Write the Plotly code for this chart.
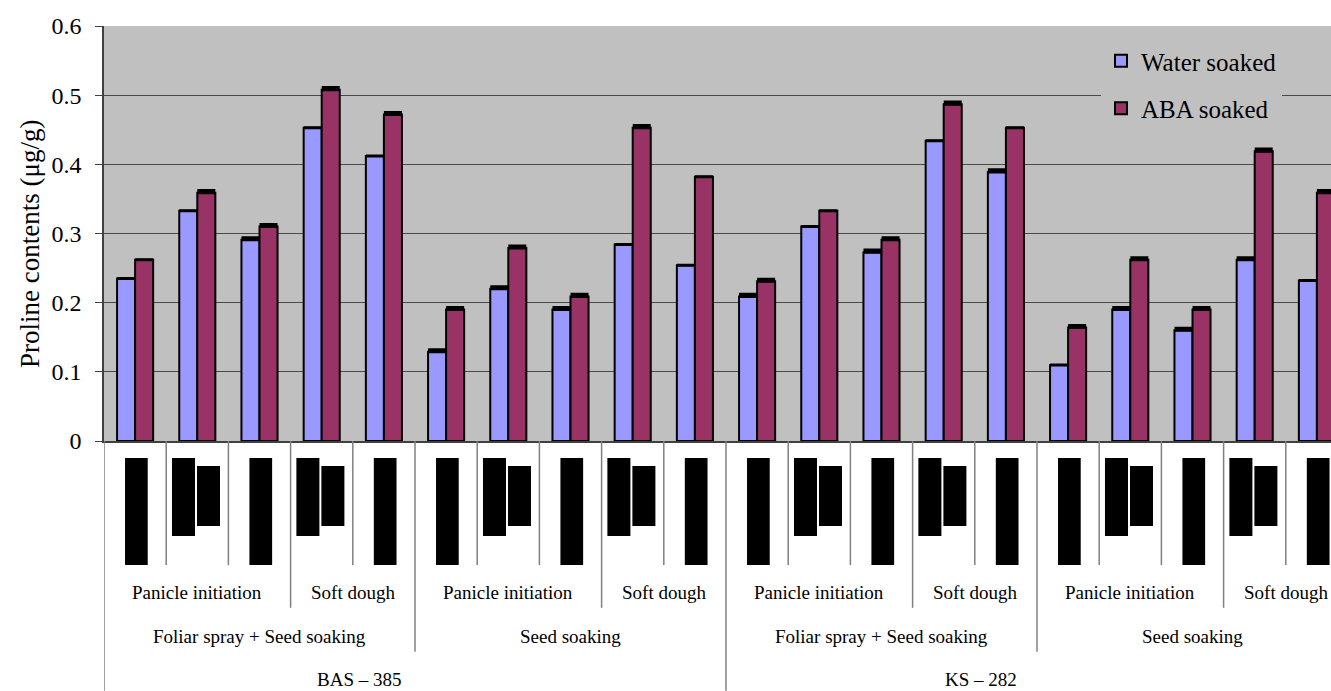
import plotly.graph_objects as go

# ---- data -------------------------------------------------------------
varieties = ["BAS \u2013 385", "KS \u2013 282"]
treatments = ["Foliar spray + Seed soaking", "Seed soaking"]
stages = ["Panicle initiation", "Soft dough"]
series_names = ["Water soaked", "ABA soaked"]

water_soaked = [0.235, 0.333, 0.291, 0.453, 0.412,
                0.129, 0.220, 0.190, 0.284, 0.254,
                0.209, 0.310, 0.273, 0.434, 0.389,
                0.110, 0.190, 0.160, 0.262, 0.232]
aba_soaked = [0.262, 0.359, 0.310, 0.508, 0.472,
              0.190, 0.279, 0.209, 0.453, 0.382,
              0.231, 0.333, 0.291, 0.487, 0.453,
              0.164, 0.262, 0.190, 0.419, 0.359]
water_err = [0, 0, .003, 0, 0, .003, .003, .003, 0, 0,
             .003, 0, .003, 0, .003, 0, .003, .003, .003, 0]
aba_err = [0, .003, .003, .003, .003, .003, .003, .003, .003, 0,
           .003, 0, .003, .003, 0, .003, .003, .003, .003, .003]

y_ticks = [0, 0.1, 0.2, 0.3, 0.4, 0.5, 0.6]
y_tick_text = ["0", "0.1", "0.2", "0.3", "0.4", "0.5", "0.6"]

# ---- style ------------------------------------------------------------
SERIF = "Liberation Serif"
BLUE = "#9999FF"
MAROON = "#993366"
PLOT_BG = "#C0C0C0"
SEP = "#808080"

n = len(water_soaked)
x = list(range(n))

fig = go.Figure()
for name, vals, err, col, grp in [
    (series_names[0], water_soaked, water_err, BLUE, "a"),
    (series_names[1], aba_soaked, aba_err, MAROON, "b"),
]:
    fig.add_trace(go.Bar(
        x=x, y=vals, name=name, legendgroup=grp,
        marker=dict(color=col, line=dict(color="black", width=2)),
        error_y=dict(type="data", array=err, symmetric=False,
                     arrayminus=[0] * n, color="black",
                     thickness=3, width=9),
    ))

shapes = []
annotations = []

# black blocks in the first label row (alternating single/double pattern)
block_pattern = ["single", "double", "single", "double", "single"]
for i in x:
    kind = block_pattern[i % 5]
    if kind == "single":
        shapes.append(dict(type="rect", xref="x", yref="paper",
                           x0=i - 0.162, x1=i + 0.203, y0=-0.041, y1=-0.299,
                           fillcolor="black", line=dict(width=0)))
    else:
        shapes.append(dict(type="rect", xref="x", yref="paper",
                           x0=i - 0.407, x1=i - 0.037, y0=-0.041, y1=-0.229,
                           fillcolor="black", line=dict(width=0)))
        shapes.append(dict(type="rect", xref="x", yref="paper",
                           x0=i - 0.005, x1=i + 0.365, y0=-0.060, y1=-0.205,
                           fillcolor="black", line=dict(width=0)))

# separators of the multi-level category axis
for b in range(n):
    edge = b - 0.5
    if b % 10 == 0:
        y_end = -0.602
    elif b % 5 == 0:
        y_end = -0.508
    elif b % 5 == 3:
        y_end = -0.402
    else:
        y_end = -0.299
    shapes.append(dict(type="line", xref="x", yref="paper",
                       x0=edge, x1=edge, y0=0, y1=y_end,
                       line=dict(color=SEP, width=1.5)))

label_font = dict(family=SERIF, size=19, color="black")
for g in range(4):
    base = g * 5
    annotations.append(dict(x=base + 1, y=592, text=stages[0]))
    annotations.append(dict(x=base + 3.5, y=592, text=stages[1]))
    annotations.append(dict(x=base + 2, y=636, text=treatments[g % 2]))
for v in range(2):
    annotations.append(dict(x=v * 10 + 4.5 - 0.9, y=679, text=varieties[v]))

# convert pixel rows to paper coordinates of the plot area
TOP, BOTTOM = 26, 441
for a in annotations:
    a["y"] = (BOTTOM - a["y"]) / (BOTTOM - TOP)
    a.update(xref="x", yref="paper", showarrow=False, font=dict(label_font),
             xanchor="center", yanchor="middle")

annotations.append(dict(
    text="Proline contents (\u03bcg/g)", textangle=-90,
    xref="paper", yref="paper", x=(30 - 104) / 1227, y=(BOTTOM - 244) / (BOTTOM - TOP),
    xanchor="center", yanchor="middle", showarrow=False,
    font=dict(family=SERIF, size=27, color="black"),
))

fig.update_layout(
    width=1331, height=691,
    margin=dict(l=104, r=0, t=TOP, b=691 - BOTTOM, pad=0),
    paper_bgcolor="white", plot_bgcolor=PLOT_BG,
    barmode="group", bargap=0.42, bargroupgap=0,
    font=dict(family=SERIF, color="black"),
    showlegend=True,
    legend=dict(x=(1101 - 104) / 1227, y=(BOTTOM - 38) / (BOTTOM - TOP),
                xanchor="left", yanchor="top",
                bgcolor=PLOT_BG, borderwidth=0,
                font=dict(family=SERIF, size=25, color="black"),
                tracegroupgap=12, itemwidth=30),
    shapes=shapes, annotations=annotations,
    xaxis=dict(range=[-0.5, -0.5 + 1227 / 62.2], showticklabels=False,
               showgrid=False, zeroline=False, ticks="",
               showline=True, linecolor="#404040", linewidth=1.5),
    yaxis=dict(range=[0, 0.6], tickvals=y_ticks, ticktext=y_tick_text,
               showgrid=True, gridcolor="#4a4a4a", gridwidth=1,
               zeroline=False, showline=True, linecolor="#404040", linewidth=1.5,
               ticks="outside", ticklen=7, tickcolor="#404040",
               ticklabelstandoff=9,
               tickfont=dict(family=SERIF, size=24, color="black")),
)

fig.write_html("out.html")
